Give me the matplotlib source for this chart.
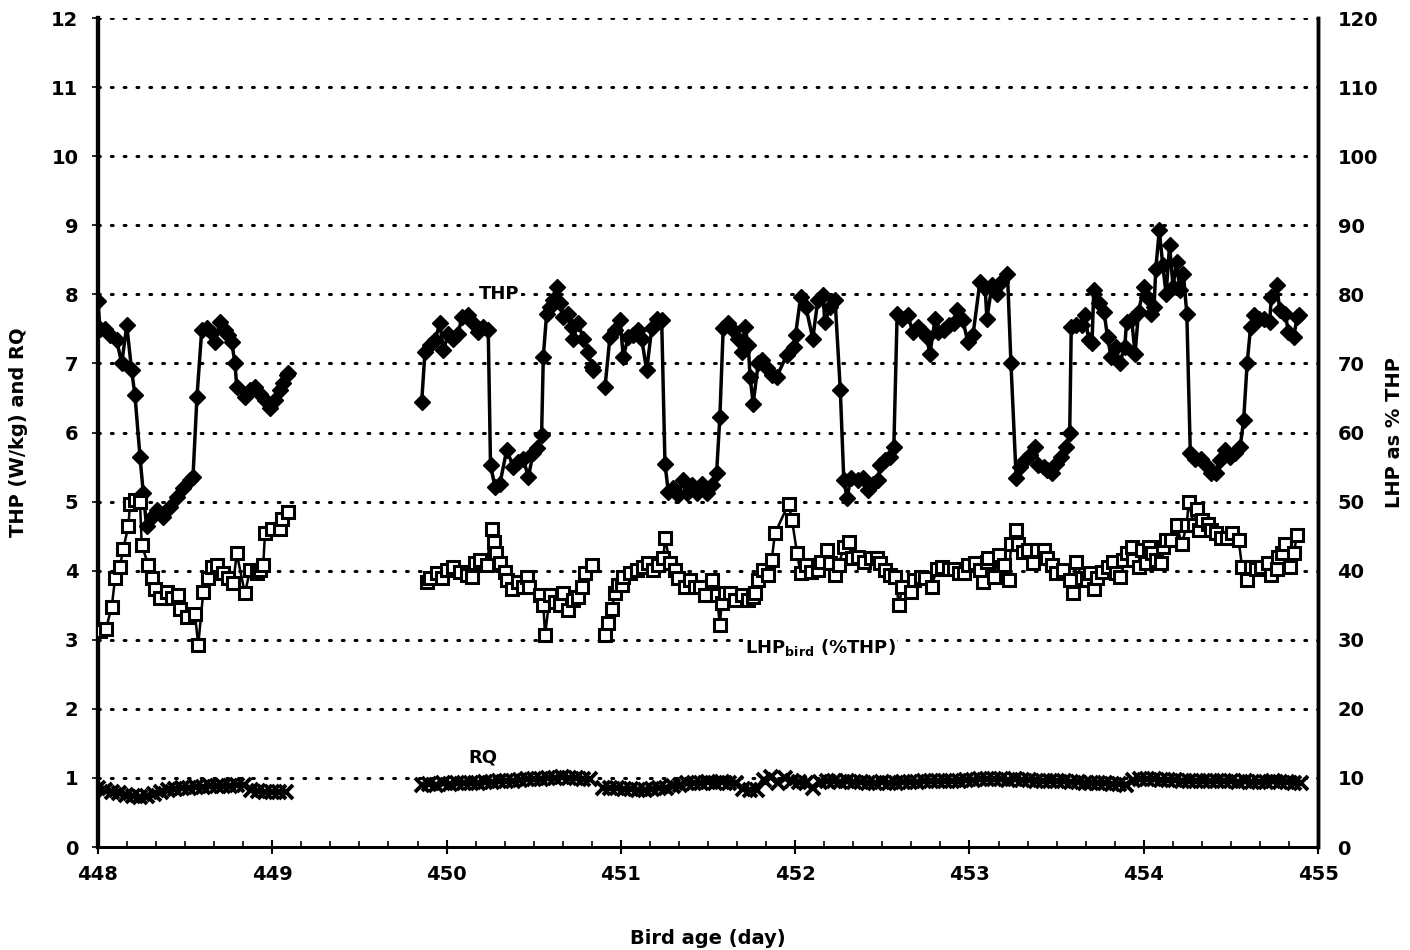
import matplotlib.pyplot as plt
import numpy as np

# THP (W/kg) - first run, 448.0 to 449.1
thp_t1 = [448.0, 448.011, 448.040, 448.069, 448.107, 448.136, 448.165, 448.193, 448.212, 448.241,
          448.260, 448.279, 448.308, 448.337, 448.375, 448.413, 448.452, 448.489, 448.528, 448.545,
          448.568, 448.595, 448.624, 448.652, 448.671, 448.700, 448.729, 448.748, 448.767, 448.786,
          448.796, 448.843, 448.872, 448.901, 448.929, 448.958, 448.987, 449.015, 449.044, 449.063,
          449.083, 449.092]
thp_v1 = [7.9, 7.5, 7.5, 7.41, 7.34, 7.0, 7.55, 6.9, 6.54, 5.65,
          5.12, 4.64, 4.78, 4.88, 4.78, 4.92, 5.07, 5.19, 5.31, 5.36,
          6.52, 7.48, 7.51, 7.44, 7.31, 7.6, 7.48, 7.41, 7.31, 7.0,
          6.66, 6.52, 6.61, 6.66, 6.56, 6.47, 6.35, 6.47, 6.61, 6.71,
          6.83, 6.86]

# THP - second run (NaN = break in the record)
thp_t2 = [449.857, 449.876, 449.905, 449.933, 449.962, 449.981, 450.010, 450.038, 450.067, 450.087,
          450.124, 450.153, 450.182, 450.210, 450.239, 450.252, 450.278, 450.306, 450.345, 450.383,
          450.411, 450.440, 450.469, 450.497, 450.517, 450.545, 450.555, 450.574, 450.593, 450.612,
          450.632, 450.651, 450.669, 450.698, 450.718, 450.727, 450.755, 450.784, 450.813, 450.832,
          450.842, 450.875,
          450.909, 450.937, 450.966, 450.995, 451.014, 451.042, 451.071, 451.100, 451.119, 451.148,
          451.177, 451.205, 451.234, 451.253, 451.272, 451.300, 451.329, 451.358, 451.377, 451.406,
          451.435, 451.463, 451.492, 451.521, 451.549, 451.568, 451.587, 451.616, 451.645, 451.673,
          451.693, 451.712, 451.731, 451.741, 451.759, 451.788, 451.808, 451.836, 451.865, 451.894,
          451.952, 451.992, 452.002, 452.031, 452.061, 452.101, 452.130, 452.160, 452.170, 452.200,
          452.229, 452.259, 452.279, 452.298, 452.318, 452.358, 452.388, 452.417, 452.447, 452.477,
          452.486, 452.516, 452.545, 452.566, 452.585, 452.615, 452.645, 452.675, 452.704, 452.734,
          452.754, 452.773, 452.803, 452.822, 452.852, 452.882, 452.911, 452.931, 452.961, 452.991,
          453.020, 453.060, 453.090, 453.100, 453.129, 453.159, 453.179, 453.218, 453.238, 453.268,
          453.288, 453.317, 453.347, 453.377, 453.396, 453.426, 453.446, 453.475, 453.495, 453.525,
          453.555, 453.575, 453.584, 453.614, 453.644, 453.664, 453.683, 453.703, 453.713, 453.743,
          453.772, 453.792, 453.812, 453.841, 453.861, 453.891, 453.901, 453.930, 453.950, 453.970,
          454.000, 454.019, 454.039, 454.059, 454.069, 454.089, 454.109, 454.128, 454.148, 454.168,
          454.188, 454.207, 454.227, 454.247, 454.267, 454.296, 454.326, 454.356, 454.385, 454.415,
          454.435, 454.465, 454.494, 454.524, 454.553, 454.573, 454.593, 454.613, 454.633, 454.662,
          454.692, 454.722, 454.732, 454.762, 454.781, 454.811, 454.830, 454.860, 454.880, 454.890]
thp_v2 = [6.44, 7.17, 7.26, 7.34, 7.58, 7.19, 7.43, 7.36, 7.43, 7.67,
          7.70, 7.58, 7.46, 7.53, 7.48, 5.53, 5.21, 5.26, 5.75, 5.50,
          5.58, 5.62, 5.36, 5.70, 5.77, 5.96, 7.10, 7.72, 7.82, 7.92,
          8.11, 7.87, 7.67, 7.72, 7.53, 7.36, 7.58, 7.36, 7.17, 6.95,
          6.90, np.nan,
          6.66, 7.38, 7.48, 7.63, 7.10, 7.38, 7.41, 7.48, 7.36, 6.90,
          7.51, 7.65, 7.63, 5.55, 5.14, 5.19, 5.09, 5.31, 5.12, 5.24,
          5.12, 5.26, 5.12, 5.24, 5.41, 6.23, 7.51, 7.58, 7.48, 7.36,
          7.17, 7.53, 7.26, 6.81, 6.42, 7.00, 7.05, 6.93, 6.83, 6.81,
          7.12, 7.24, 7.41, 7.96, 7.82, 7.36, 7.92, 7.99, 7.60, 7.82,
          7.92, 6.61, 5.31, 5.05, 5.34, 5.31, 5.34, 5.17, 5.26, 5.31,
          5.53, 5.60, 5.65, 5.79, 7.72, 7.65, 7.70, 7.46, 7.53, 7.46,
          7.38, 7.14, 7.65, 7.46, 7.48, 7.55, 7.58, 7.77, 7.63, 7.31,
          7.41, 8.18, 8.09, 7.65, 8.13, 8.01, 8.18, 8.30, 7.00, 5.34,
          5.50, 5.60, 5.67, 5.79, 5.53, 5.50, 5.46, 5.41, 5.55, 5.65,
          5.79, 5.99, 7.53, 7.55, 7.55, 7.70, 7.34, 7.29, 8.06, 7.87,
          7.75, 7.38, 7.10, 7.24, 7.00, 7.24, 7.60, 7.65, 7.14, 7.75,
          8.11, 7.96, 7.72, 7.82, 8.37, 8.93, 8.42, 8.01, 8.71, 8.11,
          8.47, 8.06, 8.30, 7.72, 5.70, 5.62, 5.62, 5.53, 5.41, 5.41,
          5.60, 5.75, 5.65, 5.70, 5.79, 6.18, 7.00, 7.53, 7.70, 7.65,
          7.65, 7.60, 7.96, 8.13, 7.77, 7.72, 7.46, 7.38, 7.67, 7.70]

# LHP_bird as % of THP - first run
lhp_t1 = [448.011, 448.046, 448.079, 448.098, 448.126, 448.145, 448.174, 448.184, 448.212, 448.241,
          448.251, 448.289, 448.308, 448.327, 448.356, 448.394, 448.423, 448.461, 448.470, 448.509,
          448.556, 448.575, 448.604, 448.633, 448.652, 448.681, 448.719, 448.748, 448.776, 448.796,
          448.843, 448.872, 448.910, 448.929, 448.948, 448.958, 448.997, 449.044, 449.054, 449.092]
lhp_v1 = [31.3, 31.6, 34.8, 38.9, 40.6, 43.2, 46.4, 49.7, 50.2, 49.9,
          43.7, 40.8, 38.9, 37.4, 36.0, 36.9, 36.0, 36.5, 34.5, 33.3,
          33.8, 29.2, 36.9, 38.9, 40.6, 40.8, 39.6, 38.9, 38.2, 42.5,
          36.7, 40.1, 39.6, 40.1, 40.8, 45.4, 46.1, 46.1, 47.5, 48.5]

# LHP_bird - second run
lhp_t2 = [449.886, 449.905, 449.943, 449.972, 450.001, 450.038, 450.077, 450.115, 450.144, 450.163,
          450.192, 450.230, 450.259, 450.270, 450.282, 450.306, 450.335, 450.345, 450.373, 450.411,
          450.440, 450.462, 450.475, 450.536, 450.555, 450.565, 450.593, 450.622, 450.651, 450.670,
          450.698, 450.727, 450.756, 450.775, 450.794, 450.832, 450.870,
          450.909, 450.928, 450.947, 450.966, 450.985, 451.004, 451.014, 451.052, 451.091, 451.129,
          451.158, 451.186, 451.215, 451.244, 451.253, 451.282, 451.311, 451.329, 451.368, 451.397,
          451.425, 451.454, 451.483, 451.521, 451.550, 451.568, 451.578, 451.597, 451.626, 451.655,
          451.693, 451.731, 451.760, 451.769, 451.788, 451.817, 451.846, 451.865, 451.884,
          451.962, 451.982, 452.011, 452.031, 452.061, 452.090, 452.130, 452.150, 452.180, 452.200,
          452.229, 452.249, 452.279, 452.308, 452.328, 452.358, 452.397, 452.437, 452.467, 452.486,
          452.516, 452.545, 452.575, 452.595, 452.615, 452.664, 452.684, 452.724, 452.743, 452.783,
          452.813, 452.843, 452.882, 452.911, 452.941, 452.971, 452.991, 453.030, 453.060, 453.080,
          453.100, 453.109, 453.139, 453.169, 453.198, 453.228, 453.238, 453.268, 453.278, 453.307,
          453.337, 453.367, 453.387, 453.426, 453.446, 453.475, 453.495, 453.535, 453.575, 453.594,
          453.614, 453.644, 453.674, 453.693, 453.713, 453.733, 453.762, 453.792, 453.822, 453.841,
          453.861, 453.881, 453.901, 453.930, 453.940, 453.970, 453.990, 454.010, 454.030, 454.049,
          454.069, 454.099, 454.109, 454.128, 454.158, 454.188, 454.218, 454.247, 454.257, 454.287,
          454.306, 454.316, 454.336, 454.366, 454.385, 454.415, 454.445, 454.475, 454.504, 454.544,
          454.564, 454.593, 454.613, 454.643, 454.672, 454.712, 454.732, 454.762, 454.772, 454.791,
          454.811, 454.841, 454.860, 454.880]
lhp_v2 = [38.4, 38.9, 39.6, 38.9, 40.1, 40.6, 39.8, 39.4, 39.1, 41.1,
          41.5, 40.8, 46.1, 44.2, 42.5, 41.1, 39.8, 38.6, 37.4, 38.4,
          37.7, 39.1, 37.7, 36.5, 35.0, 30.7, 36.5, 35.5, 35.0, 36.7,
          34.3, 35.7, 36.2, 37.7, 39.6, 40.8, np.nan,
          30.7, 32.4, 34.5, 36.7, 37.9, 37.9, 39.1, 39.6, 40.1, 40.6,
          41.1, 40.1, 40.8, 41.8, 44.7, 41.1, 40.1, 38.9, 37.7, 38.6,
          37.7, 37.7, 36.5, 38.6, 36.5, 32.1, 35.3, 36.7, 36.7, 35.7,
          36.5, 35.7, 36.2, 36.7, 38.6, 40.1, 39.4, 41.5, 45.4,
          49.7, 47.3, 42.5, 39.6, 40.8, 39.8, 40.1, 41.3, 43.0, 41.1,
          39.4, 40.8, 43.4, 44.2, 41.8, 42.0, 41.3, 41.8, 41.8, 41.1,
          40.1, 39.4, 39.1, 35.0, 37.7, 36.9, 38.6, 39.1, 38.9, 37.7,
          40.3, 40.6, 40.3, 40.3, 39.6, 39.6, 40.8, 41.1, 40.1, 38.4,
          41.3, 41.8, 39.1, 42.3, 40.8, 38.6, 43.9, 45.9, 43.9, 42.7,
          43.0, 41.1, 43.0, 43.0, 41.8, 40.8, 39.6, 40.1, 38.6, 36.7,
          41.3, 38.9, 38.6, 39.6, 37.4, 38.9, 39.8, 40.6, 41.3, 39.6,
          39.1, 41.5, 42.5, 43.4, 41.5, 40.6, 43.0, 41.1, 43.4, 42.5,
          41.5, 41.1, 43.4, 44.4, 44.4, 46.6, 43.9, 46.6, 50.0, 46.6,
          49.0, 45.9, 47.3, 46.8, 45.9, 45.4, 44.7, 44.7, 45.4, 44.4,
          40.6, 38.6, 40.6, 40.3, 40.6, 41.1, 39.4, 40.3, 42.0, 42.5,
          43.9, 40.6, 42.5, 45.2]

# RQ, sampled every ~1 h
rq_t1 = np.round(np.arange(448.0, 449.1, 0.04), 3)
rq_v1 = [0.86, 0.83, 0.80, 0.78, 0.76, 0.74, 0.73, 0.74, 0.77, 0.80,
         0.82, 0.84, 0.85, 0.86, 0.87, 0.87, 0.88, 0.88, 0.89, 0.89,
         0.90, 0.90, 0.82, 0.81, 0.80, 0.80, 0.79, 0.80]
rq_t2 = np.round(np.arange(449.86, 454.92, 0.04), 3)
rq_v2 = [0.90, 0.91, 0.90, 0.92, 0.91, 0.92, 0.93, 0.92, 0.93, 0.94,   # 449.86
         0.94, 0.95, 0.96, 0.96, 0.97, 0.98, 0.98, 0.99, 1.00, 1.00,   # 450.26
         1.01, 1.00, 1.00, 0.99, 0.98, np.nan, 0.86, 0.85, 0.85, 0.84,  # 450.66
         0.84, 0.83, 0.83, 0.84, 0.85, 0.86, 0.88, 0.90, 0.92, 0.93,   # 451.06
         0.93, 0.94, 0.93, 0.94, 0.93, 0.92, 0.84, 0.82, 0.83, 0.97,   # 451.46
         1.02, 0.93, 1.00, 0.95, 0.94, 0.93, 0.85, 0.94, 0.95, 0.95,   # 451.86
         0.94, 0.95, 0.94, 0.94, 0.93, 0.93, 0.94, 0.93, 0.93, 0.94,   # 452.26
         0.94, 0.94, 0.95, 0.95, 0.95, 0.96, 0.96, 0.96, 0.97, 0.97,   # 452.66
         0.98, 0.98, 0.98, 0.98, 0.97, 0.98, 0.97, 0.97, 0.96, 0.96,   # 453.06
         0.96, 0.95, 0.95, 0.94, 0.94, 0.93, 0.93, 0.93, 0.92, 0.91,   # 453.46
         0.91, 0.90, 0.97, 0.98, 0.98, 0.98, 0.97, 0.97, 0.97, 0.96,   # 453.86
         0.96, 0.96, 0.95, 0.95, 0.96, 0.95, 0.95, 0.94, 0.95, 0.94,   # 454.26
         0.94, 0.94, 0.95, 0.94, 0.94, 0.93, 0.93]                     # 454.66

# labels
x_ticks = [448, 449, 450, 451, 452, 453, 454, 455]
left_ticks = list(range(0, 13))
right_ticks = list(range(0, 130, 10))

plt.rcParams['font.family'] = ['DejaVu Sans']
plt.rcParams['font.weight'] = 'bold'
plt.rcParams['mathtext.default'] = 'bf'

fig = plt.figure(figsize=(14.1, 9.5), dpi=100)
ax = fig.add_axes([0.0695, 0.1084, 0.8653, 0.8726])
ax2 = ax.twinx()

# dotted gridlines
for yv in left_ticks[1:]:
    ax.axhline(yv, color='black', lw=2.2, linestyle=(0, (0.6, 3.6)),
               dash_capstyle='round', zorder=1)

# RQ
ax.plot(rq_t1, rq_v1, '-', color='black', lw=4, marker='x', ms=10, mew=2.8, zorder=3)
ax.plot(rq_t2, rq_v2, '-', color='black', lw=4, marker='x', ms=10, mew=2.8, zorder=3)

# THP
ax.plot(thp_t1, thp_v1, '-', color='black', lw=2.5, marker='D', ms=8, zorder=4)
ax.plot(thp_t2, thp_v2, '-', color='black', lw=2.5, marker='D', ms=8, zorder=4)

# LHP on the right axis
ax2.plot(lhp_t1, lhp_v1, '-', color='black', lw=1.8, marker='s', ms=8.5,
         mfc='white', mec='black', mew=2.2, zorder=4)
ax2.plot(lhp_t2, lhp_v2, '-', color='black', lw=1.8, marker='s', ms=8.5,
         mfc='white', mec='black', mew=2.2, zorder=4)

ax.set_xlim(448, 455)
ax.set_ylim(0, 12)
ax2.set_ylim(0, 120)

ax.set_xticks(x_ticks)
ax.set_xticks(np.arange(448, 455.01, 1 / 6), minor=True)
ax.set_yticks(left_ticks)
ax2.set_yticks(right_ticks)

ax.tick_params(axis='x', which='major', direction='inout', length=10, width=1.5,
               labelsize=14, pad=8)
ax.tick_params(axis='x', which='minor', direction='in', length=4, width=1.2)
ax.tick_params(axis='y', direction='out', length=4, width=1.2, labelsize=14, pad=10)
ax2.tick_params(axis='y', direction='out', length=0, labelsize=14, pad=14)

for a in (ax, ax2):
    a.spines['top'].set_visible(False)
    a.spines['left'].set_linewidth(3)
    a.spines['bottom'].set_linewidth(2)
    a.spines['right'].set_linewidth(2.5)

ax.set_xlabel('Bird age (day)', fontsize=14, fontweight='bold', labelpad=32)
ax.set_ylabel('THP (W/kg) and RQ', fontsize=14, fontweight='bold')
ax2.set_ylabel('LHP as % THP', fontsize=14, fontweight='bold')
ax.yaxis.set_label_coords(-0.057, 0.5)
ax2.yaxis.set_label_coords(1.055, 0.5)

box = dict(facecolor='white', edgecolor='none', pad=1)
ax.text(450.3, 8.0, 'THP', fontsize=13, fontweight='bold', ha='center', va='center',
        bbox=box, zorder=5)
ax.text(450.21, 1.29, 'RQ', fontsize=13, fontweight='bold', ha='center', va='center', zorder=5)
ax.text(451.71, 2.89, r'LHP$_{\mathbf{bird}}$ (%THP)', fontsize=13, fontweight='bold',
        ha='left', va='center', bbox=box, zorder=5)

fig.savefig('out.png', dpi=100)
